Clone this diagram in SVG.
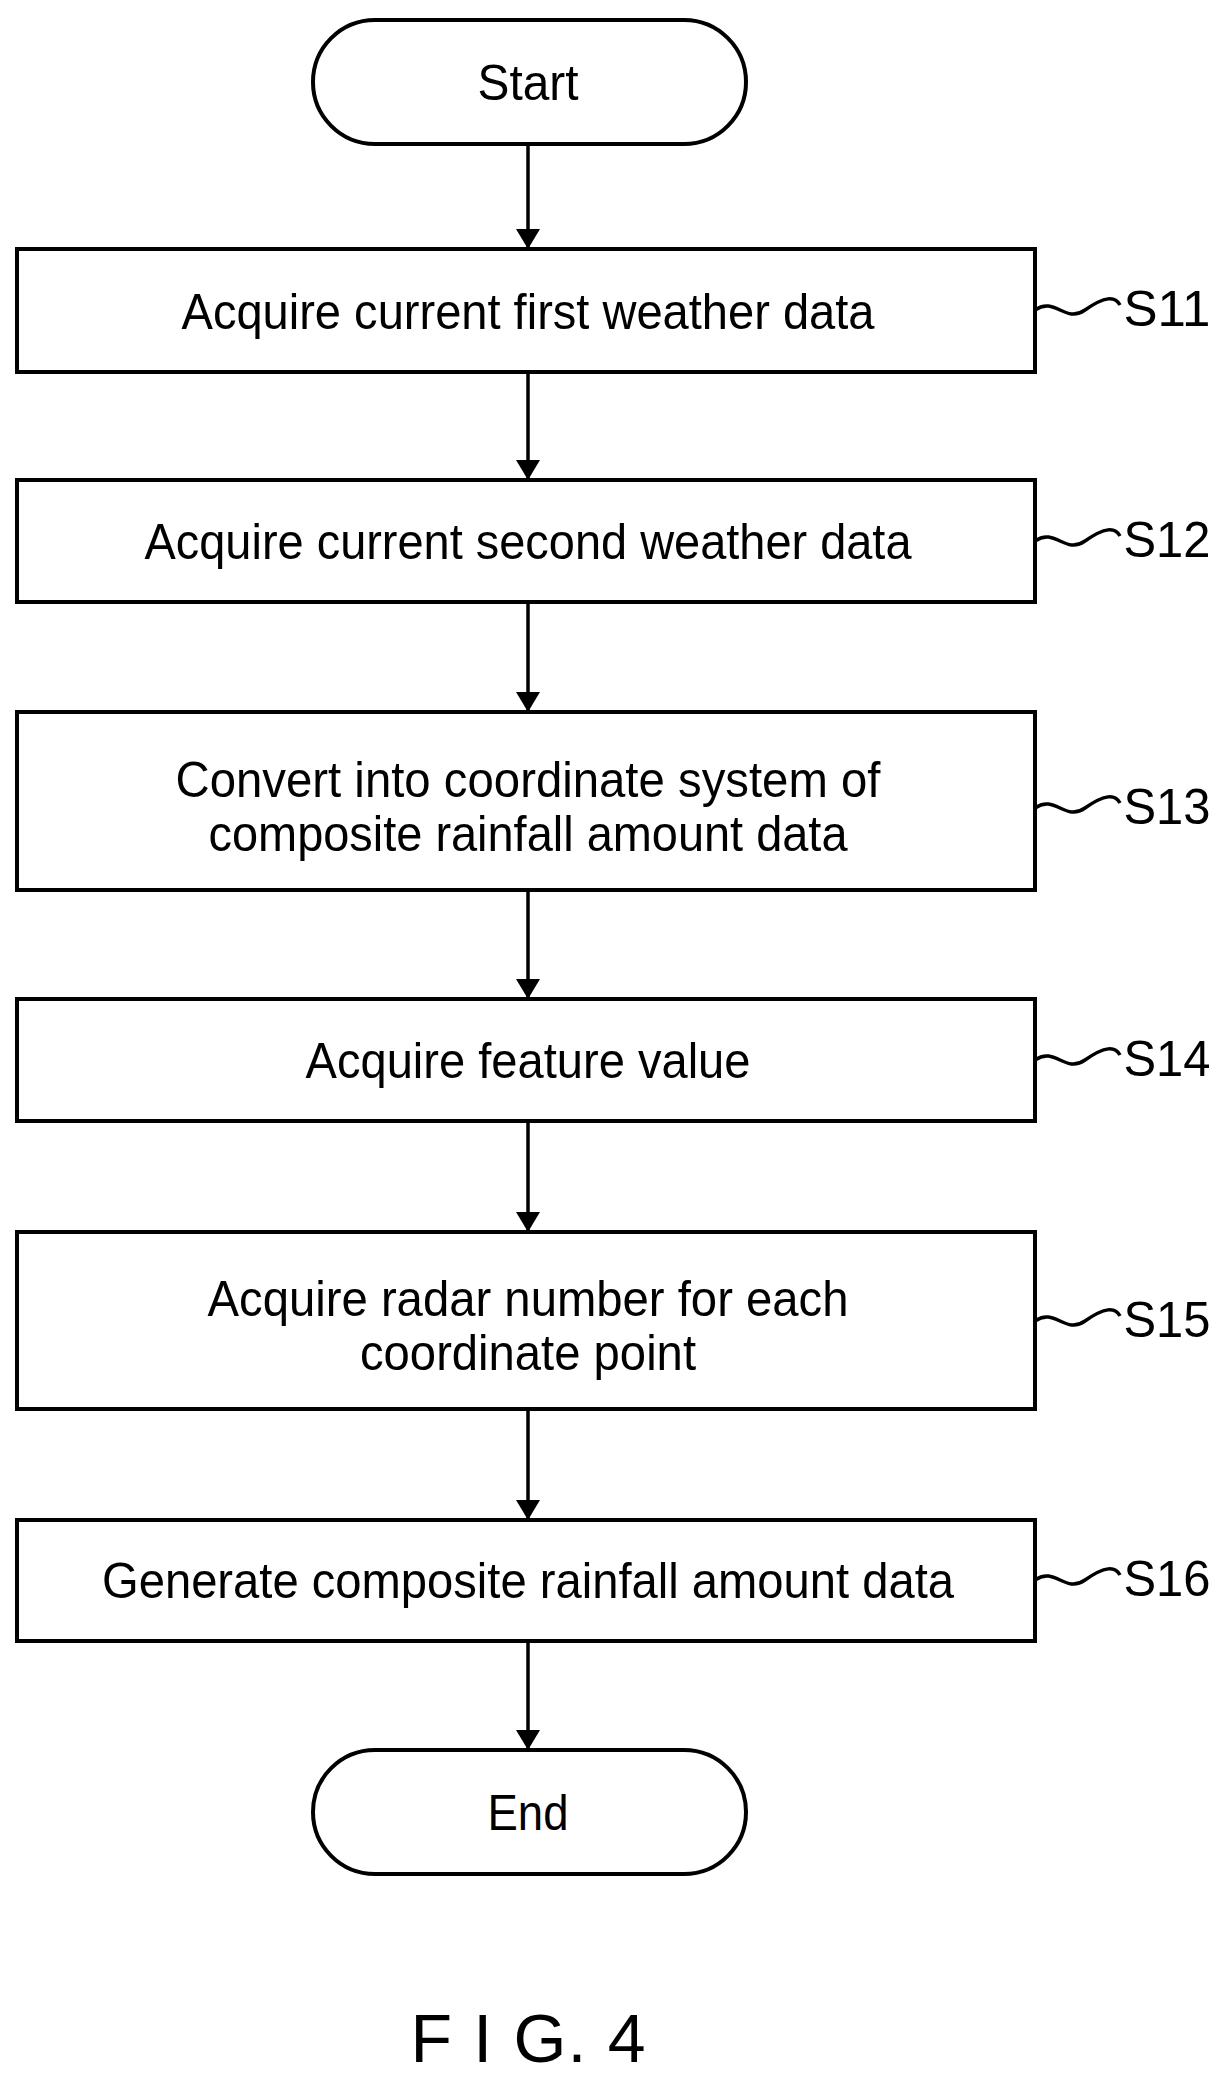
<svg xmlns="http://www.w3.org/2000/svg" width="1219" height="2083" viewBox="0 0 1219 2083">
<style>
.b{fill:#fff;stroke:#000;stroke-width:4}
.t{font-family:"Liberation Sans",Arial,sans-serif;font-size:50px;fill:#000;text-anchor:middle}
.c{fill:none;stroke:#000;stroke-width:3.5}
</style>
<defs>
<marker id="ah" viewBox="0 0 20 24" refX="20" refY="12" markerWidth="20" markerHeight="24" orient="auto" markerUnits="userSpaceOnUse"><path d="M0,0L20,12L0,24z"/></marker></defs>
<rect width="1219" height="2083" fill="#fff"/>
<g id="start"><rect class="b" x="313" y="20" width="433" height="124" rx="62"/><text class="t" x="528" y="100" textLength="101" lengthAdjust="spacingAndGlyphs">Start</text></g>
<g id="s11"><rect class="b" x="17" y="249" width="1018" height="123"/><text class="t" x="528" y="329" textLength="693" lengthAdjust="spacingAndGlyphs">Acquire current first weather data</text><text class="t" x="1167" y="326" textLength="87" lengthAdjust="spacingAndGlyphs">S11</text></g>
<g id="s12"><rect class="b" x="17" y="480" width="1018" height="122"/><text class="t" x="528" y="559" textLength="767" lengthAdjust="spacingAndGlyphs">Acquire current second weather data</text><text class="t" x="1167" y="557" textLength="87" lengthAdjust="spacingAndGlyphs">S12</text></g>
<g id="s13"><rect class="b" x="17" y="712" width="1018" height="178"/><text class="t" x="528" y="797" textLength="705" lengthAdjust="spacingAndGlyphs">Convert into coordinate system of</text><text class="t" x="528" y="851" textLength="639" lengthAdjust="spacingAndGlyphs">composite rainfall amount data</text><text class="t" x="1167" y="824" textLength="87" lengthAdjust="spacingAndGlyphs">S13</text></g>
<g id="s14"><rect class="b" x="17" y="999" width="1018" height="122"/><text class="t" x="528" y="1078" textLength="445" lengthAdjust="spacingAndGlyphs">Acquire feature value</text><text class="t" x="1167" y="1076" textLength="87" lengthAdjust="spacingAndGlyphs">S14</text></g>
<g id="s15"><rect class="b" x="17" y="1232" width="1018" height="177"/><text class="t" x="528" y="1316" textLength="641" lengthAdjust="spacingAndGlyphs">Acquire radar number for each</text><text class="t" x="528" y="1370" textLength="336" lengthAdjust="spacingAndGlyphs">coordinate point</text><text class="t" x="1167" y="1337" textLength="87" lengthAdjust="spacingAndGlyphs">S15</text></g>
<g id="s16"><rect class="b" x="17" y="1520" width="1018" height="121"/><text class="t" x="528" y="1598" textLength="852" lengthAdjust="spacingAndGlyphs">Generate composite rainfall amount data</text><text class="t" x="1167" y="1596" textLength="87" lengthAdjust="spacingAndGlyphs">S16</text></g>
<g id="end"><rect class="b" x="313" y="1750" width="433" height="124" rx="62"/><text class="t" x="528" y="1830" textLength="81" lengthAdjust="spacingAndGlyphs">End</text></g>
<g id="connectors">
<path class="c" marker-end="url(#ah)" d="M528 144V249"/>
<path class="c" marker-end="url(#ah)" d="M528 372V480"/>
<path class="c" marker-end="url(#ah)" d="M528 602V712"/>
<path class="c" marker-end="url(#ah)" d="M528 890V999"/>
<path class="c" marker-end="url(#ah)" d="M528 1121V1232"/>
<path class="c" marker-end="url(#ah)" d="M528 1409V1520"/>
<path class="c" marker-end="url(#ah)" d="M528 1641V1750"/>
<path class="c" d="M1035 310c20-14 30 14 50 0s30-14 35 -5"/>
<path class="c" d="M1035 541c20-14 30 14 50 0s30-14 35 -5"/>
<path class="c" d="M1035 808c20-14 30 14 50 0s30-14 35 -5"/>
<path class="c" d="M1035 1060c20-14 30 14 50 0s30-14 35 -5"/>
<path class="c" d="M1035 1321c20-14 30 14 50 0s30-14 35 -5"/>
<path class="c" d="M1035 1580c20-14 30 14 50 0s30-14 35 -5"/>
</g>
<text x="528" y="2062" style="font-family:'Liberation Sans',Arial,sans-serif;font-size:68px;text-anchor:middle" textLength="235" lengthAdjust="spacing">F I G. 4</text>
</svg>
